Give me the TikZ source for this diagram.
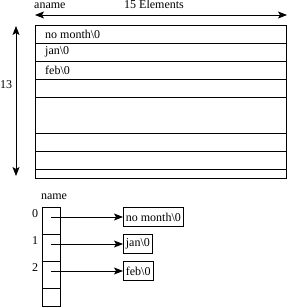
\documentclass[tikz,border=0pt]{standalone}
\usepackage{fontspec}
\setmainfont{Liberation Serif}
\usetikzlibrary{arrows.meta}
\begin{document}
\begin{tikzpicture}[x=1pt,y=-1pt,
  every node/.style={font=\fontsize{12}{14}\selectfont, inner sep=0pt},
  ln/.style={line width=0.8pt},
  arr/.style={ln, -{Stealth[length=9pt,width=7pt,inset=2pt]}},
  darr/.style={ln, {Stealth[length=9pt,width=7pt,inset=2pt]}-{Stealth[length=9pt,width=7pt,inset=2pt]}},
  strbox/.style={draw, line width=0.8pt, anchor=west, minimum height=18.5pt, inner xsep=2.5pt}]
\useasboundingbox (0,0) rectangle (287,307);
% top table
\draw[ln] (35,25) rectangle (286,178);
\foreach \y in {43,61,79,97,133,151,169} \draw[ln] (35,\y) -- (286,\y);
\node[anchor=west] (r0) at (45,34) {no month\textbackslash 0};
\node[anchor=west] (r1) at (45,52) {jan\textbackslash 0};
\node[anchor=west] (r2) at (45,70) {feb\textbackslash 0};
% labels and dimension arrows
\node[anchor=base west] (aname) at (34,9) {aname};
\node[anchor=base] (elem) at (154,9) {15 Elements};
\coordinate (hl) at (35,15);
\coordinate (hr) at (287,15);
\draw[darr] (hl) -- (hr);
\coordinate (vt) at (16,26);
\coordinate (vb) at (16,176);
\draw[darr] (vt) -- (vb);
\node[anchor=west] (thirteen) at (0,85) {13};
% name array
\node (name) at (54,197) {name};
\draw[ln] (42,207) rectangle (60,306);
\foreach \y in {234,261,288} \draw[ln] (42,\y) -- (60,\y);
\node (i0) at (35,214) {0};
\node (i1) at (35,241) {1};
\node (i2) at (35,268) {2};
\coordinate (p0) at (51,217);
\coordinate (p1) at (51,244);
\coordinate (p2) at (51,271);
\node[strbox] (s0) at (123,217) {no month\textbackslash 0};
\node[strbox] (s1) at (123,244) {jan\textbackslash 0};
\node[strbox] (s2) at (123,271) {feb\textbackslash 0};
\draw[arr] (p0) -- (s0.west);
\draw[arr] (p1) -- (s1.west);
\draw[arr] (p2) -- (s2.west);
\end{tikzpicture}
\end{document}
